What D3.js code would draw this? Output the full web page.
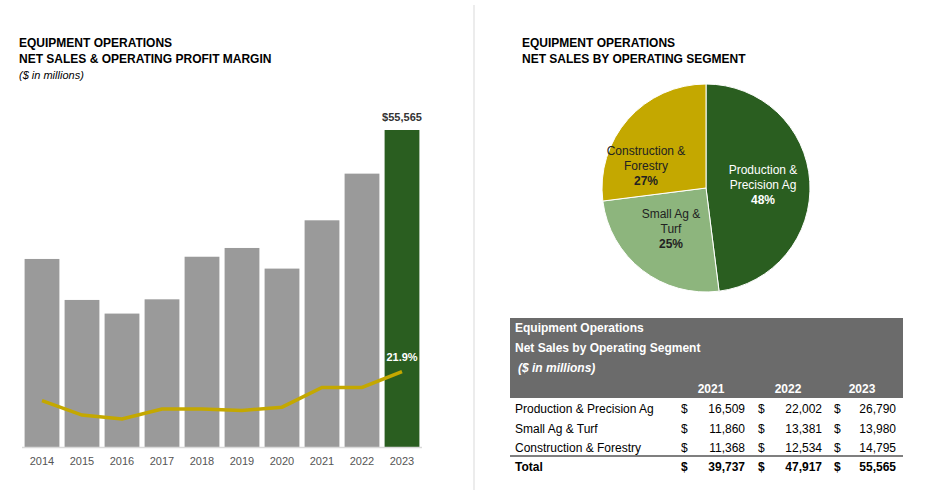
<!DOCTYPE html>
<html><head><meta charset="utf-8">
<script src="https://cdn.jsdelivr.net/npm/d3@7"></script>
<style>body{margin:0;background:#fff;font-family:"Liberation Sans",Arial,sans-serif}</style>
</head><body><div id="chart"></div>
<script>
// bar + line data
const years = ["2014","2015","2016","2017","2018","2019","2020","2021","2022","2023"]
const netSales = [32961,25775,23387,25885,33351,34886,31272,39737,47917,55565]
const margin = [13.8,9.8,8.7,11.5,11.5,11.1,12.0,17.5,17.5,21.9]

// pie data
const segments = ["Production &\nPrecision Ag","Small Ag &\nTurf","Construction &\nForestry"]
const shares = [48,25,27]
const segColors = ["#2a5e20","#8db57d","#c4a800"]

// table data
const tableYears = ["2021","2022","2023"]
const rowNames = ["Production & Precision Ag","Small Ag & Turf","Construction & Forestry"]
const rowVals = [[16509,22002,26790],[11860,13381,13980],[11368,12534,14795]]
const totals = [39737,47917,55565]

const svg = d3.select("#chart").append("svg").attr("width",928).attr("height",495)
  .style("font-family","'Liberation Sans',Arial,sans-serif")

// divider
svg.append("line").attr("x1",474).attr("x2",474).attr("y1",5).attr("y2",490).attr("stroke","#d9d9d9")

// titles
function titles(x, l1, l2, sub){
  svg.append("text").attr("x",x).attr("y",47).attr("font-size",12).attr("font-weight","bold").text(l1)
  svg.append("text").attr("x",x).attr("y",63).attr("font-size",12).attr("font-weight","bold").text(l2)
  if(sub) svg.append("text").attr("x",x).attr("y",79).attr("font-size",11).attr("font-style","italic").text(sub)
}
titles(19,"EQUIPMENT OPERATIONS","NET SALES & OPERATING PROFIT MARGIN","($ in millions)")
titles(522,"EQUIPMENT OPERATIONS","NET SALES BY OPERATING SEGMENT")

// bars
const base = 447
const x = d3.scaleBand().domain(years).range([22,422]).paddingInner(0.13).paddingOuter(0.065)
const y = d3.scaleLinear().domain([0,55565]).range([base,130])
svg.selectAll("rect.bar").data(netSales).enter().append("rect")
  .attr("x",(d,i)=>x(years[i])).attr("width",x.bandwidth())
  .attr("y",d=>y(d)).attr("height",d=>base-y(d))
  .attr("fill",(d,i)=>i==years.length-1?"#2a5e20":"#9a9a9a")
svg.append("line").attr("x1",22).attr("x2",422).attr("y1",base+0.5).attr("y2",base+0.5).attr("stroke","#d9d9d9").attr("stroke-width",1.5)
svg.selectAll("text.yr").data(years).enter().append("text")
  .attr("x",d=>x(d)+x.bandwidth()/2).attr("y",465).attr("text-anchor","middle")
  .attr("font-size",11).attr("fill","#555").text(d=>d)
svg.append("text").attr("x",x("2023")+x.bandwidth()/2).attr("y",121).attr("text-anchor","middle")
  .attr("font-size",11).attr("font-weight","bold").attr("fill","#333").text("$"+d3.format(",")(netSales[9]))

// margin line
const ym = d3.scaleLinear().domain([8.7,21.9]).range([419,371.7])
const line = d3.line().x((d,i)=>x(years[i])+x.bandwidth()/2).y(d=>ym(d))
svg.append("path").datum(margin).attr("d",line).attr("fill","none").attr("stroke","#c4a800").attr("stroke-width",3.5)
svg.append("text").attr("x",x("2023")+x.bandwidth()/2).attr("y",361).attr("text-anchor","middle")
  .attr("font-size",11).attr("font-weight","bold").attr("fill","#fff").text(margin[9]+"%")

// pie
const cx = 706, cy = 188, r = 104
const pie = d3.pie().sort(null)(shares)
const arc = d3.arc().innerRadius(0).outerRadius(r)
const pg = svg.append("g").attr("transform",`translate(${cx},${cy})`)
pg.selectAll("path").data(pie).enter().append("path").attr("d",arc)
  .attr("fill",(d,i)=>segColors[i]).attr("stroke","#fff").attr("stroke-width",1)
const labelPos = [[57,-14],[-35,30],[-60,-33]]
pie.forEach((d,i)=>{
  const t = pg.append("text").attr("text-anchor","middle").attr("font-size",12)
    .attr("fill",i==0?"#fff":"#222")
  const lines = segments[i].split("\n").concat([shares[i]+"%"])
  lines.forEach((s,j)=>{
    t.append("tspan").attr("x",labelPos[i][0]).attr("y",labelPos[i][1]+j*15)
      .attr("font-weight",j==2?"bold":"normal").text(s)
  })
})

// table
svg.append("rect").attr("x",510).attr("y",318).attr("width",393).attr("height",80).attr("fill","#6b6b6b")
const hdr = ["Equipment Operations","Net Sales by Operating Segment"]
hdr.forEach((s,i)=>svg.append("text").attr("x",515).attr("y",332+i*20).attr("font-size",12)
  .attr("font-weight","bold").attr("fill","#fff").text(s))
svg.append("text").attr("x",518).attr("y",372).attr("font-size",12).attr("font-weight","bold")
  .attr("font-style","italic").attr("fill","#fff").text("($ in millions)")
const dollarX = [681,758,834], valX = [745,822,896], yrX = [711,788,862]
tableYears.forEach((s,i)=>svg.append("text").attr("x",yrX[i]).attr("y",393).attr("text-anchor","middle")
  .attr("font-size",12).attr("font-weight","bold").attr("fill","#fff").text(s))
const fmt = d3.format(",")
function row(name, vals, yy, bold){
  const w = bold?"bold":"normal"
  svg.append("text").attr("x",515).attr("y",yy).attr("font-size",12).attr("font-weight",w).text(name)
  vals.forEach((v,i)=>{
    svg.append("text").attr("x",dollarX[i]).attr("y",yy).attr("font-size",12).attr("font-weight",w).text("$")
    svg.append("text").attr("x",valX[i]).attr("y",yy).attr("text-anchor","end").attr("font-size",12).attr("font-weight",w).text(fmt(v))
  })
}
rowNames.forEach((n,i)=>row(n,rowVals[i],413+i*19.5,false))
svg.append("line").attr("x1",510).attr("x2",903).attr("y1",456).attr("y2",456).attr("stroke","#000").attr("stroke-width",1.2)
row("Total",totals,471,true)
</script></body></html>
